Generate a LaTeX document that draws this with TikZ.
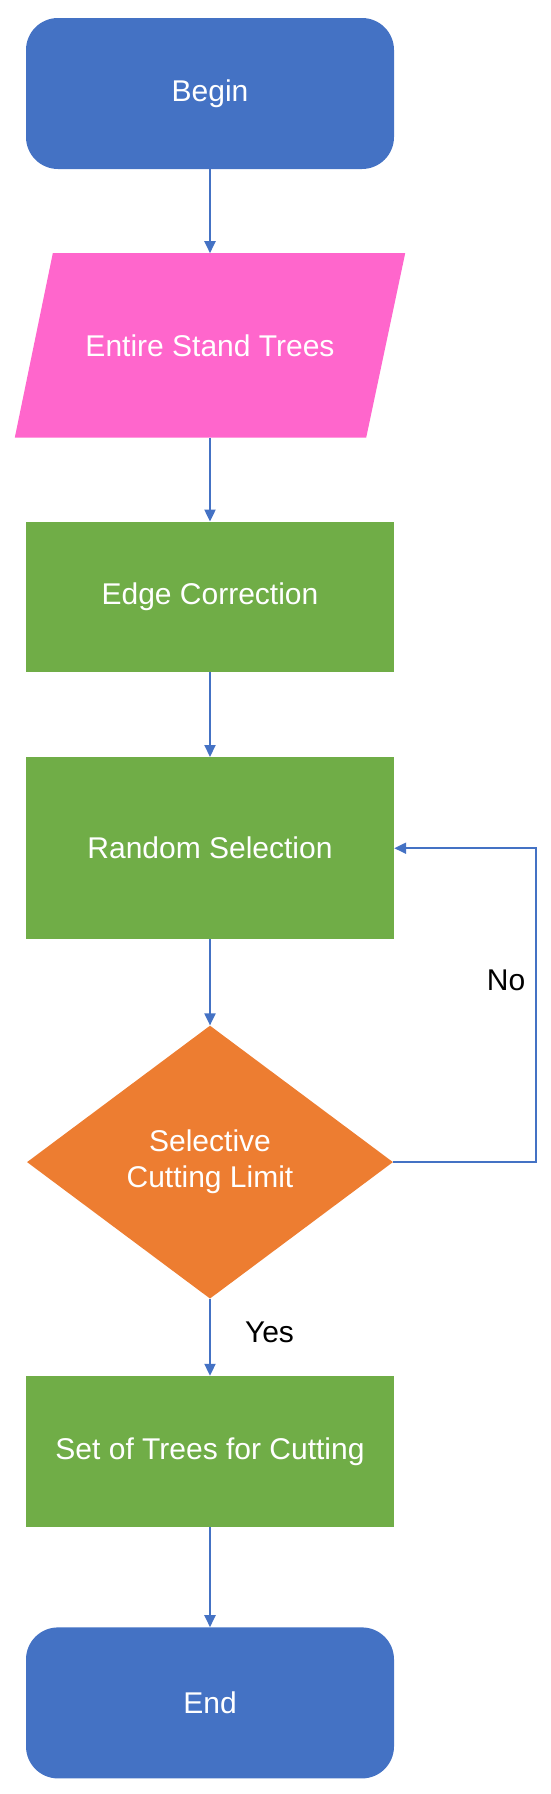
\documentclass[tikz,border=0pt]{standalone}
\usepackage{fontspec}
\setmainfont{Liberation Sans}
\usetikzlibrary{arrows.meta,positioning,shapes.geometric,backgrounds}

\definecolor{termblue}{HTML}{4472C4}
\definecolor{inpink}{HTML}{FF66CC}
\definecolor{procgreen}{HTML}{70AD47}
\definecolor{decorange}{HTML}{ED7D31}

\begin{document}
\begin{tikzpicture}[
      x=1pt, y=-1pt,
      font=\fontsize{30}{36}\selectfont,
      term/.style={fill=termblue, text=white, rounded corners=32pt,
                   minimum width=368pt, minimum height=151pt, align=center},
      inbox/.style={text=white, minimum width=390pt,
                    minimum height=184pt, align=center},
      proc/.style={fill=procgreen, text=white, minimum width=368pt,
                   minimum height=150pt, align=center},
      dec/.style={diamond, fill=decorange, text=white, minimum width=366pt,
                  minimum height=273pt, inner sep=0pt, align=center},
      lbl/.style={text=black, inner sep=0pt},
      arr/.style={-{Triangle[length=12pt, width=11pt]}, line width=2pt, draw=termblue}
    ]
    \useasboundingbox (0,0) rectangle (550,1794);

    \node[term] (begin) at (210,93.5) {Begin};
    \node[inbox, below=84pt of begin] (trees) {Entire Stand Trees};
    \node[proc, below=84pt of trees] (edge) {Edge Correction};
    \node[proc, below=85pt of edge, minimum height=182pt] (rand) {Random Selection};
    \node[dec, below=86pt of rand] (limit) {Selective\\Cutting Limit};
    \node[proc, below=77pt of limit, minimum height=151pt] (cut) {Set of Trees for Cutting};
    \node[term, below=100pt of cut] (end) {End};

    % input parallelogram
    \begin{scope}[on background layer]
      \fill[inpink] ([xshift=38pt]trees.north west) -- (trees.north east)
        -- ([xshift=-39pt]trees.south east) -- (trees.south west) -- cycle;
    \end{scope}

    \draw[arr] (begin) -- (trees);
    \draw[arr] (trees) -- (edge);
    \draw[arr] (edge) -- (rand);
    \draw[arr] (rand) -- (limit);
    \draw[arr] (limit) -- node[lbl, right=34pt, pos=0.43] {Yes} (cut);
    \draw[arr] (limit.east) -- ++(143,0) |- node[lbl, left=10pt, pos=0.29] {No} (rand.east);
    \draw[arr] (cut) -- (end);
  \end{tikzpicture}
\end{document}
